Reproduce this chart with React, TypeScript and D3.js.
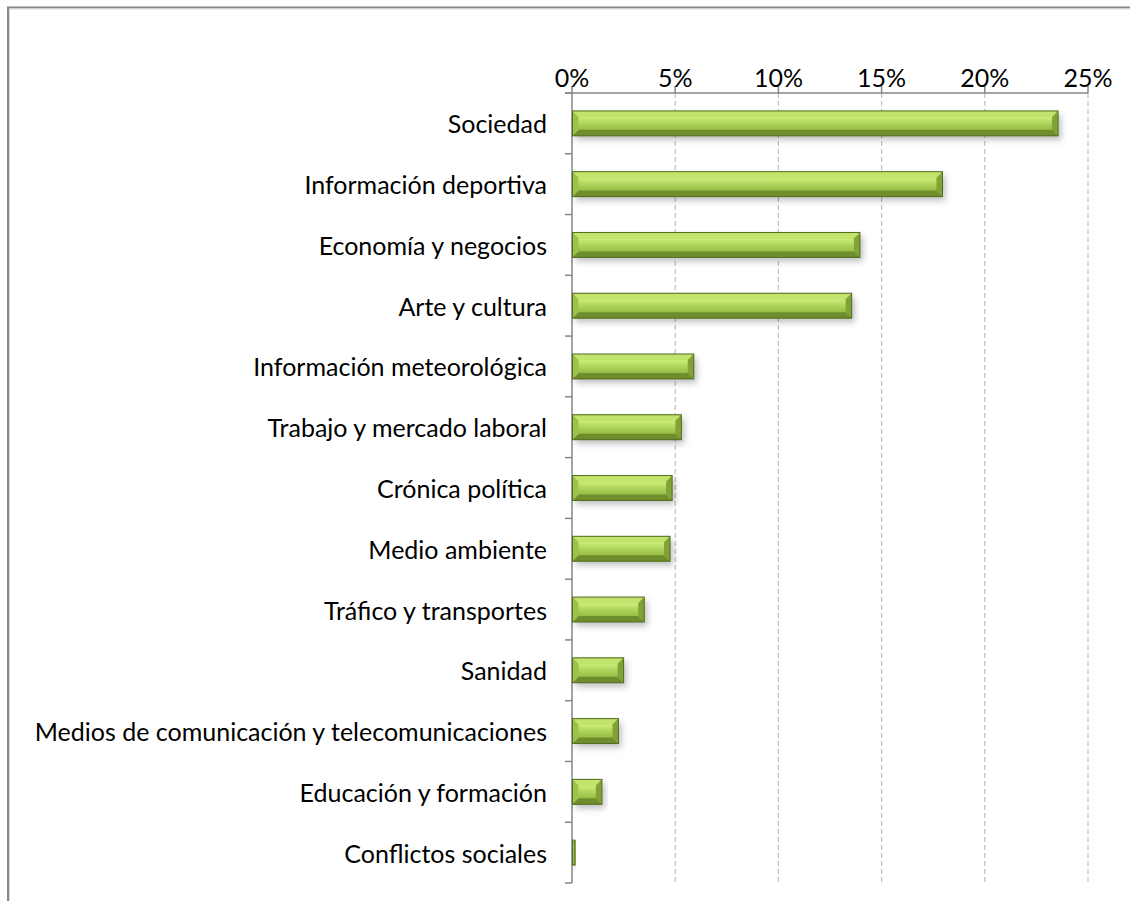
import React from "react";
import * as d3 from "d3";

const categories = [
  "Sociedad",
  "Información deportiva",
  "Economía y negocios",
  "Arte y cultura",
  "Información meteorológica",
  "Trabajo y mercado laboral",
  "Crónica política",
  "Medio ambiente",
  "Tráfico y transportes",
  "Sanidad",
  "Medios de comunicación y telecomunicaciones",
  "Educación y formación",
  "Conflictos sociales",
];

const values = [
  0.2355, 0.1795, 0.1395, 0.1355, 0.059, 0.053, 0.0485, 0.0475, 0.035, 0.025,
  0.0225, 0.0145, 0.0015,
];

const tickValues = [0, 0.05, 0.1, 0.15, 0.2, 0.25];
const tickLabels = ["0%", "5%", "10%", "15%", "20%", "25%"];

const W = 1130;
const H = 901;
const FONT = "Lato, 'Open Sans', sans-serif";
const FS = 25;

export default function App() {
  const x = d3.scaleLinear().domain([0, 0.25]).range([572, 1088]);
  const y = d3
    .scaleBand<string>()
    .domain(categories)
    .range([93, 883])
    .paddingInner(0.59)
    .paddingOuter(0.295);
  const step = y.step();
  const top = 93;
  const bottom = 883;
  const axisColor = "#868686";
  const gridColor = "#c0c0c0";

  return (
    <svg
      width={W}
      height={H}
      style={{ position: "absolute", left: 0, top: 0, display: "block", background: "#fff" }}
    >
      <defs>
        <linearGradient id="face" x1="0" y1="0" x2="0" y2="1">
          <stop offset="0" stopColor="#aed357" />
          <stop offset="0.28" stopColor="#c9ea78" />
          <stop offset="0.55" stopColor="#a9cf55" />
          <stop offset="1" stopColor="#87aa3a" />
        </linearGradient>
        <filter id="shadow" x="-10%" y="-50%" width="130%" height="220%">
          <feDropShadow dx="3" dy="4" stdDeviation="3" floodColor="#000" floodOpacity="0.25" />
        </filter>
      </defs>

      {/* chart frame */}
      <path d={`M8 ${H} V7.5 H${W}`} fill="none" stroke="#878787" strokeWidth={2} />
      <path d={`M9.5 ${H} V9 H${W}`} fill="none" stroke="#dcdcdc" strokeWidth={1} />

      {/* gridlines */}
      {tickValues.slice(1).map((t) => (
        <line
          key={"g" + t}
          x1={x(t)}
          x2={x(t)}
          y1={top}
          y2={bottom}
          stroke={gridColor}
          strokeWidth={1.2}
          strokeDasharray="5,3"
        />
      ))}

      {/* top value axis */}
      <line x1={565} x2={x(0.25)} y1={top} y2={top} stroke={axisColor} strokeWidth={1.5} />
      {tickValues.map((t) => (
        <line key={"t" + t} x1={x(t)} x2={x(t)} y1={top - 7} y2={top} stroke={axisColor} strokeWidth={1.5} />
      ))}
      {tickValues.map((t, i) => (
        <text
          key={"l" + t}
          x={x(t)}
          y={77}
          textAnchor="middle"
          dominantBaseline="central"
          fontFamily={FONT}
          fontSize={FS}
          fill="#000"
        >
          {tickLabels[i]}
        </text>
      ))}

      {/* category axis */}
      <line x1={x(0)} x2={x(0)} y1={top} y2={bottom} stroke={axisColor} strokeWidth={1.5} />
      {d3.range(categories.length + 1).map((i) => (
        <line
          key={"ct" + i}
          x1={565}
          x2={x(0)}
          y1={top + i * step}
          y2={top + i * step}
          stroke={axisColor}
          strokeWidth={1.5}
        />
      ))}
      {categories.map((c) => (
        <text
          key={"c" + c}
          x={547}
          y={(y(c) as number) + y.bandwidth() / 2}
          textAnchor="end"
          dominantBaseline="central"
          fontFamily={FONT}
          fontSize={FS}
          fill="#000"
        >
          {c}
        </text>
      ))}

      {/* bars */}
      {categories.map((c, i) => {
        const x0 = x(0) + 0.5;
        const x1 = x(values[i]);
        const y0 = y(c) as number;
        const h = y.bandwidth();
        const y1 = y0 + h;
        const w = x1 - x0;
        const b = Math.min(6, w / 2);
        return (
          <g key={"b" + c}>
            <rect x={x0} y={y0} width={w} height={h} fill="#7c9c32" filter="url(#shadow)" />
            <rect x={x0} y={y0} width={w} height={h} fill="url(#face)" />
            <polygon
              points={`${x0},${y0} ${x1},${y0} ${x1 - b},${y0 + b} ${x0 + b},${y0 + b}`}
              fill="#c2e36c"
            />
            <polygon
              points={`${x0},${y1} ${x1},${y1} ${x1 - b},${y1 - b} ${x0 + b},${y1 - b}`}
              fill="#6f8d2c"
            />
            <polygon
              points={`${x0},${y0} ${x0 + b},${y0 + b} ${x0 + b},${y1 - b} ${x0},${y1}`}
              fill="#9cc24b"
            />
            <polygon
              points={`${x1},${y0} ${x1 - b},${y0 + b} ${x1 - b},${y1 - b} ${x1},${y1}`}
              fill="#81a236"
            />
            <rect x={x0} y={y0} width={w} height={h} fill="none" stroke="#536c1f" strokeWidth={1} />
          </g>
        );
      })}
    </svg>
  );
}
